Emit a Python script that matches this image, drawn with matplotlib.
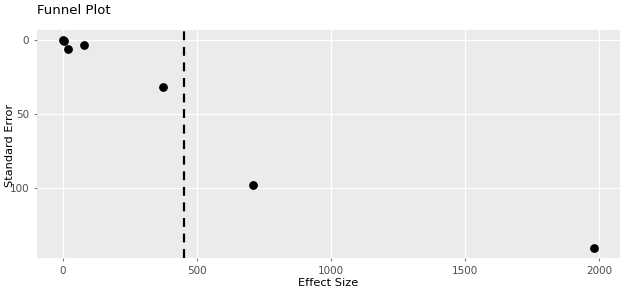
import matplotlib
matplotlib.use("Agg")
import matplotlib.pyplot as plt

# datos
efecto = [0, 4, 20, 78, 372, 707, 1980]
error_std = [0.2, 1.1, 6.3, 3.6, 31.6, 98.2, 140.5]
efecto_medio = 451

fig = plt.figure(figsize=(6.24, 2.9), dpi=100)
ax = fig.add_axes([37 / 624, 1 - 258 / 290, (620 - 37) / 624, (258 - 30) / 290])
ax.set_facecolor('#EBEBEB')

ax.scatter(efecto, error_std, s=28, color='black', zorder=3)
ax.axvline(efecto_medio, color='black', linestyle=(0, (4, 3)), linewidth=1.6, zorder=2)

ax.set_xlim(-97, 2078)
ax.set_ylim(147.2, -6.5)
ax.set_xticks([0, 500, 1000, 1500, 2000])
ax.set_yticks([0, 50, 100])
ax.grid(True, color='white', linewidth=0.9)
ax.set_axisbelow(True)
for s in ax.spines.values():
    s.set_visible(False)
ax.tick_params(colors='#7F7F7F', labelcolor='#4D4D4D', labelsize=7.5, length=2, width=0.8)

ax.set_xlabel('Effect Size', fontsize=8.2, color='black', labelpad=2)
fig.text(10 / 624, 1 - 145 / 290, 'Standard Error', fontsize=8.2, rotation=90,
         va='center', ha='center')
fig.text(37 / 624, 1 - 11 / 290, 'Funnel Plot', fontsize=9.5, va='center', ha='left')

fig.savefig('out.png', dpi=100)
